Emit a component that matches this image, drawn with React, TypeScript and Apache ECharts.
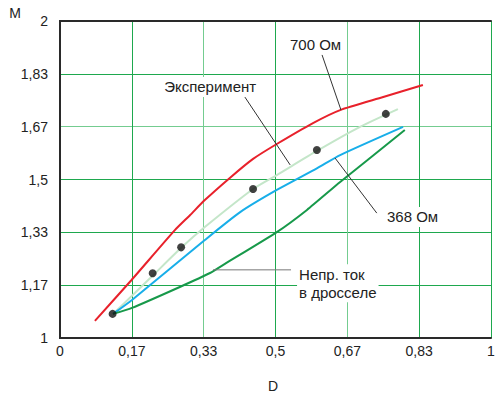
import React, { useEffect, useRef } from "react";
import * as echarts from "echarts";

const xTickLabels = ["0", "0,17", "0,33", "0,5", "0,67", "0,83", "1"];
const yTickLabels = ["1", "1,17", "1,33", "1,5", "1,67", "1,83", "2"];

// Кривая 700 Ом
const red700: number[][] = [
  [0.081, 1.054], [0.166, 1.183], [0.267, 1.341], [0.302, 1.388], [0.336, 1.435],
  [0.394, 1.505], [0.448, 1.565], [0.503, 1.612], [0.587, 1.678], [0.65, 1.719],
  [0.75, 1.76], [0.842, 1.798],
];
// Эксперимент (аппроксимация)
const experimentLine: number[][] = [
  [0.123, 1.076], [0.167, 1.133], [0.216, 1.198], [0.283, 1.287], [0.336, 1.35],
  [0.448, 1.47], [0.503, 1.514], [0.596, 1.59], [0.696, 1.666], [0.784, 1.722],
];
// Кривая 368 Ом
const blue368: number[][] = [
  [0.123, 1.076], [0.167, 1.12], [0.336, 1.309], [0.418, 1.397], [0.503, 1.467],
  [0.596, 1.535], [0.65, 1.577], [0.796, 1.666],
];
// Непрерывный ток в дросселе
const greenCcm: number[][] = [
  [0.123, 1.076], [0.167, 1.095], [0.278, 1.161], [0.348, 1.205], [0.378, 1.23],
  [0.503, 1.334], [0.573, 1.404], [0.65, 1.492], [0.8, 1.656],
];
// Экспериментальные точки
const experimentPoints: number[][] = [
  [0.122, 1.076], [0.215, 1.204], [0.281, 1.286], [0.448, 1.47], [0.596, 1.593], [0.756, 1.707],
];

// Annotation anchors (data coords)
const annText = [
  { text: "Эксперимент", at: [0.237, 1.792], valign: "middle" },
  { text: "700 Ом", at: [0.529, 1.927], valign: "middle" },
  { text: "368 Ом", at: [0.754, 1.382], valign: "middle" },
  { text: "Непр. ток\nв дросселе", at: [0.55, 1.233], valign: "top" },
];
const annLines = [
  { from: [0.429, 1.76], to: [0.534, 1.546], color: "#333" },
  { from: [0.608, 1.893], to: [0.652, 1.719], color: "#333" },
  { from: [0.638, 1.568], to: [0.735, 1.394], color: "#333" },
  { from: [0.355, 1.215], to: [0.536, 1.215], color: "#777" },
];

const FONT = "'Liberation Sans', Arial, Helvetica, sans-serif";
const G = "#1ea84e";
const GL = "#74cc90";

export default function App() {
  const ref = useRef<HTMLDivElement>(null);
  useEffect(() => {
    if (!ref.current) return;
    const chart = echarts.init(ref.current, undefined, { renderer: "svg" });
    const step = 1 / 6;
    const frameAxis = {
      show: true,
      axisLine: { show: true, lineStyle: { color: "#2a2a2a", width: 2 } },
      axisTick: { show: false },
      axisLabel: { show: false },
      splitLine: { show: false },
    };
    const lineSeries = (name: string, data: number[][], color: string, z: number) => ({
      name,
      type: "line",
      data,
      smooth: 0.2,
      showSymbol: false,
      symbol: "none",
      lineStyle: { color, width: 2 },
      z,
    });
    chart.setOption({
      animation: false,
      backgroundColor: "#fff",
      grid: { left: 60, top: 21, right: 7, bottom: 58, containLabel: false },
      xAxis: [
        {
          type: "value",
          min: 0,
          max: 1,
          interval: step,
          axisLine: { show: true, lineStyle: { color: "#2a2a2a", width: 2 } },
          axisTick: { show: false },
          axisLabel: {
            margin: 6,
            fontSize: 14,
            color: "#222",
            fontFamily: FONT,
            formatter: (v: number) => xTickLabels[Math.round(v * 6)] ?? "",
          },
          splitLine: { show: true, lineStyle: { color: [G, G, GL, G, GL, G, G], width: 1 } },
        },
        { ...frameAxis, type: "value", position: "top", min: 0, max: 1, interval: step },
      ],
      yAxis: [
        {
          type: "value",
          min: 1,
          max: 2,
          interval: step,
          axisLine: { show: true, lineStyle: { color: "#2a2a2a", width: 2 } },
          axisTick: { show: false },
          axisLabel: {
            margin: 12,
            fontSize: 14,
            color: "#222",
            fontFamily: FONT,
            padding: [4, 0, 0, 0],
            formatter: (v: number) => yTickLabels[Math.round((v - 1) * 6)] ?? "",
          },
          splitLine: { show: true, lineStyle: { color: [G, G, G, G, GL, G, G], width: 1 } },
        },
        { ...frameAxis, type: "value", position: "right", min: 1, max: 2, interval: step },
      ],
      series: [
        lineSeries("Эксперимент", experimentLine, "#c4e6c9", 2),
        lineSeries("700 Ом", red700, "#e8212b", 3),
        lineSeries("368 Ом", blue368, "#18aee9", 3),
        lineSeries("Непр. ток в дросселе", greenCcm, "#17994a", 3),
        {
          name: "Точки",
          type: "scatter",
          data: experimentPoints,
          symbol: "circle",
          symbolSize: 8,
          itemStyle: { color: "#111" },
          z: 5,
        },
      ],
    });

    const px = (p: number[]) => chart.convertToPixel({ gridIndex: 0 }, p) as number[];
    const graphics: any[] = [];
    annLines.forEach((l) => {
      const a = px(l.from);
      const b = px(l.to);
      graphics.push({
        type: "line",
        z: 50,
        shape: { x1: a[0], y1: a[1], x2: b[0], y2: b[1] },
        style: { stroke: l.color, lineWidth: 1 },
      });
    });
    annText.forEach((t) => {
      const p = px(t.at);
      graphics.push({
        type: "text",
        z: 60,
        x: p[0],
        y: p[1],
        style: {
          text: t.text,
          fill: "#222",
          fontSize: 15,
          fontFamily: FONT,
          lineHeight: 18,
          align: "left",
          verticalAlign: t.valign,
          backgroundColor: "#fff",
          padding: [1, 2, 1, 2],
        },
      });
    });
    graphics.push({
      type: "text",
      z: 60,
      x: 15,
      y: 13,
      style: { text: "M", fill: "#222", fontSize: 14, fontFamily: FONT, align: "center", verticalAlign: "middle" },
    });
    graphics.push({
      type: "text",
      z: 60,
      x: 273,
      y: 386,
      style: { text: "D", fill: "#222", fontSize: 14, fontFamily: FONT, align: "center", verticalAlign: "middle" },
    });
    chart.setOption({ graphic: graphics });

    return () => chart.dispose();
  }, []);
  return (
    <div
      ref={ref}
      style={{ position: "absolute", left: 0, top: 0, width: 498, height: 396, background: "#fff" }}
    />
  );
}
